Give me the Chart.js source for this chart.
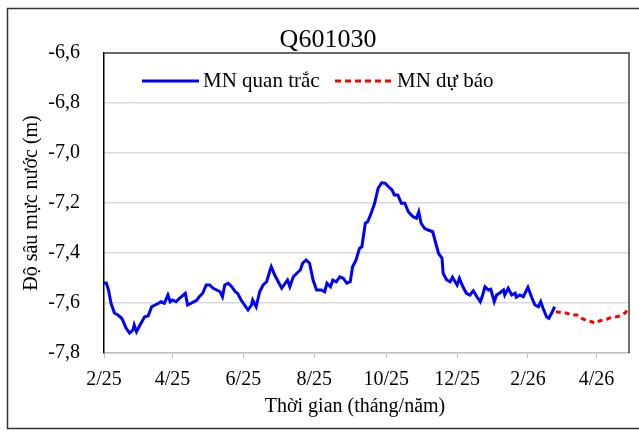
<!DOCTYPE html>
<html lang="vi">
<head>
<meta charset="utf-8">
<title>Q601030</title>
<script src="https://cdn.jsdelivr.net/npm/chart.js@4.4.1/dist/chart.umd.min.js"></script>
<style>
    body { margin: 0; background: #fff; }
    canvas { display: block; }
</style>
</head>
<body>
<canvas id="bieuDo" width="639" height="432"></canvas>
<script>
// Số ngày tính từ 1/2/2025
const ngayQuanTrac = [0, 2, 4, 6, 9, 12, 15, 16, 19, 22, 25, 26, 28, 31, 35, 38, 41, 44, 47, 49,
    52, 55, 57, 59, 62, 65, 70, 72, 75, 80, 82, 85, 88, 91, 94, 97, 100, 102, 104, 107,
    110, 113, 115, 118, 121, 124, 127, 128, 131, 134, 137, 140, 143, 144, 147, 150, 153, 156, 158, 160,
    163, 166, 169, 171, 174, 177, 180, 183, 187, 190, 192, 195, 197, 200, 203, 206, 209, 212, 214, 217,
    220, 222, 225, 227, 230, 233, 236, 239, 242, 245, 248, 250, 253, 256, 259, 262, 266, 269, 271, 273,
    276, 279, 283, 285, 288, 291, 292, 295, 298, 300, 304, 306, 309, 312, 315, 318, 321, 324, 326, 328,
    331, 333, 336, 338, 341, 344, 345, 348, 351, 354, 355, 358, 361, 365, 368, 371, 374, 376, 378, 381,
    383, 386, 388];
const mnQuanTrac = [-7.52, -7.52, -7.55, -7.60, -7.64, -7.648, -7.66, -7.668, -7.70, -7.72, -7.708, -7.688, -7.715, -7.688, -7.655, -7.652, -7.615, -7.608, -7.601, -7.595,
    -7.601, -7.568, -7.595, -7.588, -7.595, -7.581, -7.561, -7.608, -7.601, -7.588, -7.575, -7.561, -7.528, -7.528, -7.541, -7.548, -7.555, -7.575, -7.528, -7.521,
    -7.535, -7.555, -7.561, -7.588, -7.608, -7.628, -7.608, -7.588, -7.615, -7.555, -7.528, -7.515, -7.468, -7.455, -7.488, -7.515, -7.541, -7.521, -7.508, -7.535,
    -7.495, -7.481, -7.468, -7.441, -7.428, -7.441, -7.508, -7.548, -7.548, -7.555, -7.521, -7.535, -7.508, -7.515, -7.495, -7.501, -7.521, -7.515, -7.455, -7.428,
    -7.381, -7.375, -7.281, -7.275, -7.241, -7.201, -7.141, -7.119, -7.121, -7.135, -7.148, -7.168, -7.168, -7.201, -7.201, -7.235, -7.255, -7.261, -7.235, -7.281,
    -7.301, -7.308, -7.315, -7.35, -7.401, -7.421, -7.481, -7.508, -7.515, -7.497, -7.528, -7.501, -7.535, -7.561, -7.568, -7.551, -7.575, -7.595, -7.568, -7.535,
    -7.548, -7.545, -7.595, -7.568, -7.559, -7.548, -7.568, -7.541, -7.568, -7.561, -7.577, -7.568, -7.575, -7.537, -7.575, -7.608, -7.615, -7.595, -7.621, -7.655,
    -7.661, -7.635, -7.615];

const ngayDuBao = [389, 394, 399, 401, 407, 411, 416, 420, 423, 427, 433, 437, 441, 444, 449, 452];
const mnDuBao = [-7.635, -7.639, -7.641, -7.648, -7.648, -7.661, -7.671, -7.675, -7.681, -7.671, -7.665, -7.657, -7.655, -7.652, -7.639, -7.615];

// Nhãn trục hoành (đầu tháng)
const ngayNhan = [0, 59, 120, 181, 243, 304, 365, 424];
const nhanThang = ['2/25', '4/25', '6/25', '8/25', '10/25', '12/25', '2/26', '4/26'];

const tieuDe = 'Q601030';
const tenTrucX = 'Thời gian (tháng/năm)';
const tenTrucY = 'Độ sâu mực nước (m)';
const tenChuoi = ['MN quan trắc', 'MN dự báo'];

const FONT = "'Liberation Serif', 'Times New Roman', serif";
Chart.defaults.font.family = FONT;
Chart.defaults.font.size = 20;
Chart.defaults.color = '#000';

function toaDo(ngay, giaTri) {
    return ngay.map((d, i) => ({ x: d, y: giaTri[i] }));
}

// Khung, tiêu đề, chú giải, tên trục
const veKhung = {
    id: 'veKhung',
    beforeDraw(chart) {
        const ctx = chart.ctx;
        ctx.save();
        ctx.fillStyle = '#fff';
        ctx.fillRect(0, 0, chart.width, chart.height);
        ctx.restore();
    },
    afterDraw(chart) {
        const { ctx, chartArea: a } = chart;
        ctx.save();

        ctx.strokeStyle = '#404040';
        ctx.lineWidth = 1.5;
        ctx.beginPath();
        ctx.moveTo(a.left, a.top);
        ctx.lineTo(a.right, a.top);
        ctx.lineTo(a.right, a.bottom);
        ctx.stroke();

        ctx.strokeStyle = '#333';
        ctx.strokeRect(7.5, 8.5, 640, 420);

        ctx.fillStyle = '#000';
        ctx.textBaseline = 'middle';
        ctx.textAlign = 'center';
        ctx.font = '26px ' + FONT;
        ctx.fillText(tieuDe, 328, 40);

        ctx.font = '20px ' + FONT;
        ctx.fillText(tenTrucX, 355, 407);

        ctx.save();
        ctx.translate(32, 203);
        ctx.rotate(-Math.PI / 2);
        ctx.fillText(tenTrucY, 0, 0);
        ctx.restore();

        // chú giải
        ctx.lineWidth = 3;
        ctx.strokeStyle = '#0000ff';
        ctx.beginPath();
        ctx.moveTo(142, 81);
        ctx.lineTo(199, 81);
        ctx.stroke();
        ctx.strokeStyle = '#ff0000';
        ctx.setLineDash([6, 4]);
        ctx.beginPath();
        ctx.moveTo(335, 81);
        ctx.lineTo(393, 81);
        ctx.stroke();
        ctx.setLineDash([]);
        ctx.textAlign = 'left';
        ctx.font = '21px ' + FONT;
        ctx.fillText(tenChuoi[0], 203, 81);
        ctx.fillText(tenChuoi[1], 397, 81);

        ctx.restore();
    }
};

new Chart(document.getElementById('bieuDo'), {
    type: 'line',
    data: {
        datasets: [{
            label: tenChuoi[0],
            data: toaDo(ngayQuanTrac, mnQuanTrac),
            borderColor: '#0000ff',
            borderWidth: 3,
            pointRadius: 0,
            tension: 0
        }, {
            label: tenChuoi[1],
            data: toaDo(ngayDuBao, mnDuBao),
            borderColor: '#ff0000',
            borderWidth: 3,
            borderDash: [5, 4],
            pointRadius: 0,
            tension: 0
        }]
    },
    options: {
        responsive: false,
        animation: false,
        layout: { padding: { left: 8, right: 10, top: 53, bottom: 0 } },
        plugins: {
            legend: { display: false },
            title: { display: false },
            tooltip: { enabled: false }
        },
        scales: {
            x: {
                type: 'linear',
                min: 0,
                max: 452,
                afterFit(scale) { scale.height = 79; },
                afterBuildTicks(scale) {
                    scale.ticks = ngayNhan.map(v => ({ value: v }));
                },
                ticks: {
                    autoSkip: false,
                    maxRotation: 0,
                    padding: 10,
                    callback: v => nhanThang[ngayNhan.indexOf(v)]
                },
                grid: {
                    drawOnChartArea: false,
                    drawTicks: true,
                    tickLength: 5,
                    color: '#bfbfbf'
                },
                border: { color: '#bfbfbf', width: 1.5 }
            },
            y: {
                min: -7.8,
                max: -6.6,
                afterFit(scale) { scale.width = 96; },
                ticks: {
                    stepSize: 0.2,
                    padding: 24,
                    callback: v => v.toFixed(1).replace('.', ',')
                },
                grid: {
                    color: '#d9d9d9',
                    lineWidth: 1.5,
                    drawTicks: false
                },
                border: { color: '#000', width: 1.5 }
            }
        }
    },
    plugins: [veKhung]
});
</script>
</body>
</html>
